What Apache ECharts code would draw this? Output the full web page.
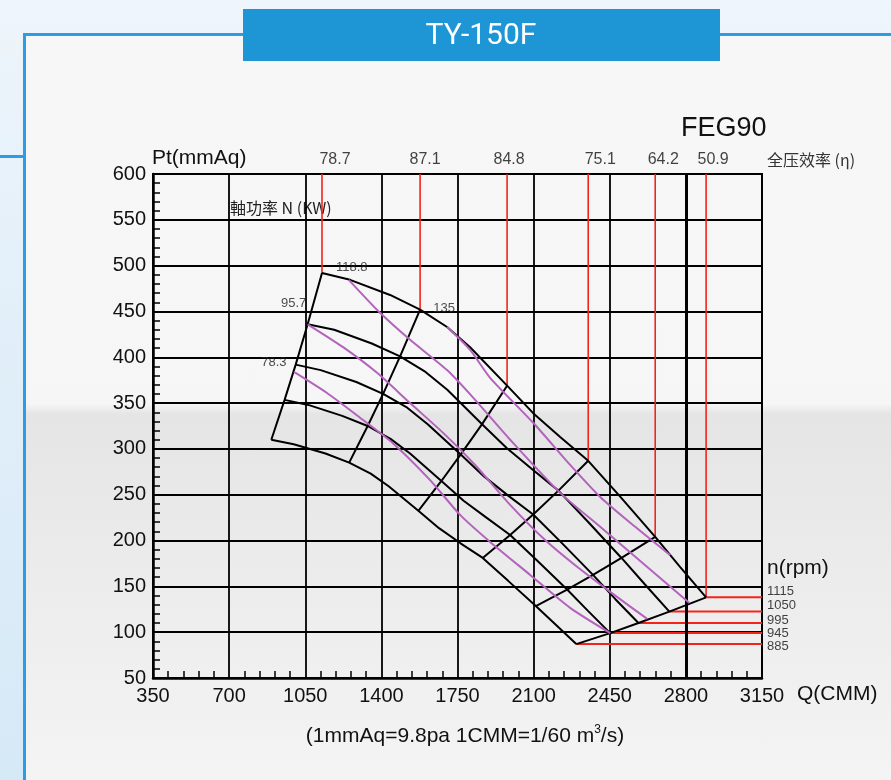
<!DOCTYPE html>
<html>
<head>
<meta charset="utf-8">
<title>TY-150F</title>
<script src="https://cdn.jsdelivr.net/npm/echarts@6/dist/echarts.min.js"></script>
<style>
html, body { margin: 0; padding: 0; }
#wrap { position: relative; width: 891px; height: 780px; overflow: hidden;
  background: linear-gradient(180deg, #eef5fb 0, #e2eff9 40%, #d6e9f7 100%); }
#tick { position: absolute; left: 0; top: 155px; width: 26px; height: 3px; background: #2e9be2; }
#panel { position: absolute; left: 23px; top: 33px; right: -5px; bottom: -5px;
  border-top: 3px solid #2e9be2; border-left: 3px solid #2e9be2;
  background: linear-gradient(180deg, #f7f7f7 0, #f6f6f6 368px, #e5e5e5 378px, #ebebeb 520px, #f4f4f4 745px); }
#chart { position: absolute; left: 0; top: 0; width: 891px; height: 780px; }
</style>
</head>
<body>
<div id="wrap">
  <div id="tick"></div>
  <div id="panel"></div>
  <div id="chart"></div>
</div>
<script>
// fan curves, Q (CMM) vs Pt (mmAq), one per speed
const speeds = ['1115', '1050', '995', '945', '885'];
const curve1115 = [[1127, 492], [1256, 484.5], [1440, 468], [1578, 452], [1702, 433], [1808, 411], [1978, 369],
  [2098, 339], [2222, 313], [2351, 287], [2498, 248], [2659, 204], [2774, 171], [2893, 138]];
const curve1050 = [[1061, 436], [1183, 430], [1356, 415], [1486, 401], [1603, 384], [1703, 364.5], [1863, 327],
  [1976, 301], [2092, 278], [2214, 254.5], [2352, 220], [2504, 181], [2612, 152], [2724, 122.5]];
const curve995 = [[1006, 392], [1121, 386], [1285, 373], [1408, 360], [1519, 345], [1613, 327], [1765, 294],
  [1872, 270], [1983, 249], [2098, 228.5], [2229, 197.5], [2373, 162.5], [2476, 136], [2582, 110]];
const curve945 = [[955, 353.5], [1064, 348], [1220, 336], [1337, 325], [1442, 311], [1532, 295], [1676, 265],
  [1778, 243.5], [1883, 225], [1992, 206], [2117, 178], [2254, 146.5], [2351, 123], [2452, 99]];
const curve885 = [[894, 310], [997, 305], [1143, 295], [1252, 285], [1351, 273], [1435, 259], [1570, 232.5],
  [1665, 213.5], [1764, 197], [1866, 181], [1983, 156], [2110, 128.5], [2202, 108], [2296, 87]];
const curves = [curve1115, curve1050, curve995, curve945, curve885];

// total pressure efficiency, and the curve point where each line crosses
const effLabels = ['78.7', '87.1', '84.8', '75.1', '64.2', '50.9'];
const effIndex = [0, 3, 6, 9, 11, 13];

// shaft power lines (KW)
const powerLabels = ['78.3', '95.7', '118.8', '135'];
const power783 = [[998, 384], [1150, 361], [1302, 334], [1454, 306], [1624, 266], [1762, 228], [1900, 198.5],
  [2084, 162.5], [2268, 126.5], [2452, 99]];
const power957 = [[1061, 436], [1224, 411], [1380, 383], [1532, 350], [1684, 317.5], [1831, 282.5], [1992, 239],
  [2153, 200.5], [2291, 173], [2452, 144], [2622, 114.5]];
const power1188 = [[1250, 484.5], [1394, 448.5], [1532, 419], [1702, 386], [1831, 353.5], [1992, 310], [2222, 252],
  [2406, 215], [2613, 173], [2815, 132]];
const power135 = [[1702, 433], [1808, 408], [1900, 377.5], [2098, 328.5], [2268, 282.5], [2406, 247.6], [2567, 215], [2728, 184]];
const powers = [power783, power957, power1188, power135];

const font = '"Liberation Sans", Arial, sans-serif';
const red = '#f3241c';
const purple = '#b463bd';

// label nudges in px
const effOffset = [[13, 0], [5, 0], [2, 0], [12, 0], [8, 0], [7, 0]];
const rpmOffset = [[0, -6], [0, -6], [0, -3], [0, 0], [0, 2]];
const powerOffset = [[-20, -10], [-14, -21], [3, -12], [-3, -19]];

const chart = echarts.init(document.getElementById('chart'));

const series = [];

curves.forEach((c, k) => {
  series.push({
    name: speeds[k] + ' rpm', type: 'line', data: c, symbol: 'none',
    lineStyle: { color: '#000', width: 2 }, z: 4, silent: true
  });
});

effIndex.forEach(i => {
  series.push({
    type: 'line', data: curves.map(c => c[i]), symbol: 'none',
    lineStyle: { color: '#000', width: 2 }, z: 4, silent: true
  });
});

powers.forEach(p => {
  series.push({
    type: 'line', data: p, symbol: 'none', smooth: 0.25,
    lineStyle: { color: purple, width: 2 }, z: 5, silent: true
  });
});

effIndex.forEach(i => {
  const pt = curve1115[i];
  series.push({
    type: 'line', data: [pt, [pt[0], 600]], symbol: 'none',
    lineStyle: { color: red, width: 1.6 }, z: 3, silent: true
  });
});

curves.forEach(c => {
  const end = c[c.length - 1];
  series.push({
    type: 'line', data: [end, [3150, end[1]]], symbol: 'none',
    lineStyle: { color: red, width: 2 }, z: 3, silent: true
  });
});

// thick 2800 gridline
series.push({
  type: 'line', data: [], silent: true,
  markLine: {
    silent: true, symbol: ['none', 'none'], label: { show: false },
    lineStyle: { color: '#000', width: 3, type: 'solid' },
    data: [{ xAxis: 2800 }]
  }
});

// text labels tied to the lines
const labelData = [];
effIndex.forEach((i, k) => {
  labelData.push({
    value: [curve1115[i][0], 600],
    label: { formatter: effLabels[k], position: 'top', distance: 6, offset: effOffset[k], fontSize: 16 }
  });
});
curves.forEach((c, k) => {
  labelData.push({
    value: [3150, c[c.length - 1][1]],
    label: { formatter: speeds[k], position: 'right', distance: 5, offset: rpmOffset[k], fontSize: 13 }
  });
});
powers.forEach((p, k) => {
  labelData.push({
    value: p[0],
    label: { formatter: powerLabels[k], position: 'inside', offset: powerOffset[k], fontSize: 13, color: '#222' }
  });
});
series.push({
  type: 'scatter', symbolSize: 0, data: labelData, silent: true, z: 6,
  label: { show: true, color: '#111', fontFamily: font }
});

chart.setOption({
  animation: false,
  grid: { left: 153, top: 174, width: 609, height: 504, show: true, borderColor: '#000', borderWidth: 2 },
  xAxis: {
    type: 'value', min: 350, max: 3150, interval: 350,
    axisLine: { show: true, lineStyle: { color: '#000', width: 2.5 } },
    axisTick: { show: false, inside: true },
    minorTick: { show: true, splitNumber: 5, length: 7, lineStyle: { color: '#000', width: 1.5 } },
    splitLine: { show: true, lineStyle: { color: '#000', width: 1.8 } },
    axisLabel: { color: '#111', fontSize: 20, fontFamily: font, margin: 8, formatter: v => String(v) }
  },
  yAxis: {
    type: 'value', min: 50, max: 600, interval: 50,
    axisLine: { show: true, lineStyle: { color: '#000', width: 2.5 } },
    axisTick: { show: false, inside: true },
    minorTick: { show: true, splitNumber: 5, length: 7, lineStyle: { color: '#000', width: 1.5 } },
    splitLine: { show: true, lineStyle: { color: '#000', width: 2 } },
    axisLabel: { color: '#111', fontSize: 20, fontFamily: font, margin: 7 }
  },
  graphic: [
    { type: 'rect', shape: { x: 243, y: 9, width: 477, height: 52 }, style: { fill: '#1e95d4' } },
    { type: 'text', x: 481, y: 36, style: { text: 'TY-150F', fill: '#fff', font: '30px Roboto, "Liberation Sans", sans-serif', textAlign: 'center', textVerticalAlign: 'middle' } },
    { type: 'text', x: 681, y: 129, style: { text: 'FEG90', fill: '#111', font: '27px ' + font, textVerticalAlign: 'middle' } },
    { type: 'text', x: 152, y: 158, style: { text: 'Pt(mmAq)', fill: '#111', font: '21px ' + font, textVerticalAlign: 'middle' } },
    { type: 'text', x: 767, y: 160, style: { text: '全压效率 (η)', fill: '#333', font: '16px "Noto Sans CJK SC", sans-serif', textVerticalAlign: 'middle' } },
    { type: 'text', x: 230, y: 208, style: { text: '軸功率 N (KW)', fill: '#222', font: '16px "Noto Sans CJK TC", sans-serif', textVerticalAlign: 'middle' } },
    { type: 'text', x: 767, y: 568, style: { text: 'n(rpm)', fill: '#111', font: '21px ' + font, textVerticalAlign: 'middle' } },
    { type: 'text', x: 797, y: 694, style: { text: 'Q(CMM)', fill: '#111', font: '21px ' + font, textVerticalAlign: 'middle' } },
    {
      type: 'text', x: 465, y: 736,
      style: {
        text: '{a|(1mmAq=9.8pa 1CMM=1/60 m}{s|3}{a|/s)}', textAlign: 'center', textVerticalAlign: 'middle',
        rich: {
          a: { fontSize: 21, fontFamily: font, fill: '#111', lineHeight: 26 },
          s: { fontSize: 12, fontFamily: font, fill: '#111', padding: [0, 0, 12, 0] }
        }
      }
    }
  ],
  series: series
});
</script>
</body>
</html>
